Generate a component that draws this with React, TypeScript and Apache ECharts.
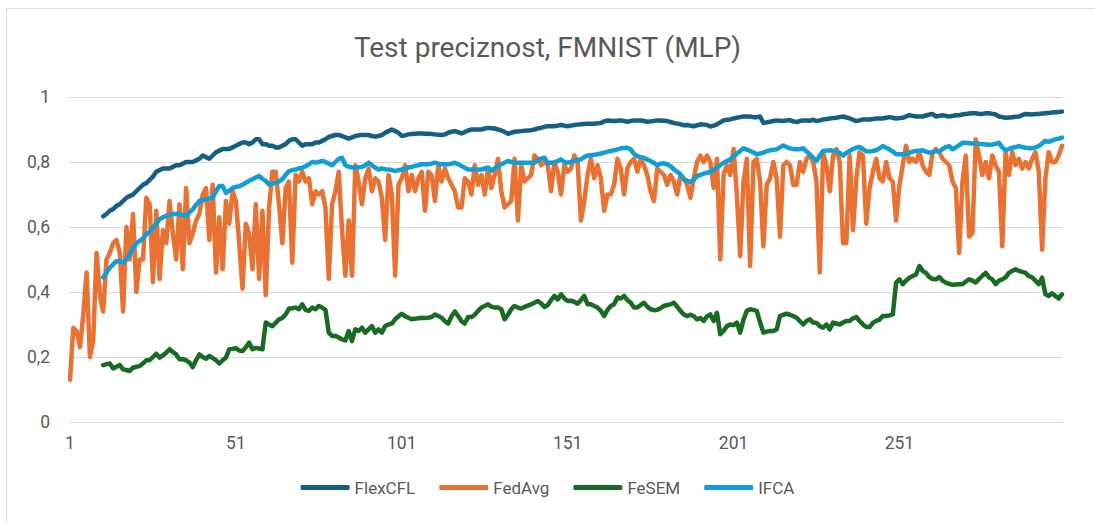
import React, { useEffect, useRef } from "react";
import * as echarts from "echarts";

const TITLE = "Test preciznost, FMNIST (MLP)";
const SERIES_NAMES = ["FlexCFL", "FedAvg", "FeSEM", "IFCA"];
const ROUNDS = 300;
const LATE_START = 10; // FlexCFL, FeSEM, IFCA start at round 11

const fedAvg = [
  0.13, 0.29, 0.28, 0.23, 0.33, 0.46, 0.20, 0.25, 0.52, 0.39,
  0.34, 0.50, 0.52, 0.55, 0.56, 0.52, 0.34, 0.60, 0.50, 0.64,
  0.40, 0.50, 0.50, 0.69, 0.67, 0.43, 0.65, 0.44, 0.59, 0.55,
  0.68, 0.58, 0.50, 0.67, 0.47, 0.72, 0.55, 0.58, 0.62, 0.64,
  0.70, 0.72, 0.56, 0.73, 0.46, 0.63, 0.47, 0.68, 0.61, 0.71,
  0.68, 0.55, 0.41, 0.61, 0.58, 0.47, 0.67, 0.44, 0.65, 0.39,
  0.66, 0.77, 0.77, 0.67, 0.55, 0.72, 0.74, 0.49, 0.76, 0.74,
  0.77, 0.74, 0.75, 0.67, 0.71, 0.70, 0.71, 0.66, 0.44, 0.67,
  0.71, 0.77, 0.59, 0.45, 0.62, 0.45, 0.79, 0.74, 0.67, 0.75,
  0.78, 0.71, 0.75, 0.74, 0.69, 0.56, 0.76, 0.70, 0.45, 0.73,
  0.75, 0.79, 0.71, 0.76, 0.71, 0.75, 0.77, 0.65, 0.77, 0.76,
  0.68, 0.79, 0.74, 0.78, 0.75, 0.73, 0.71, 0.66, 0.66, 0.75,
  0.74, 0.70, 0.79, 0.73, 0.76, 0.70, 0.78, 0.72, 0.76, 0.81,
  0.71, 0.66, 0.67, 0.68, 0.81, 0.62, 0.79, 0.74, 0.75, 0.76,
  0.82, 0.81, 0.79, 0.80, 0.79, 0.71, 0.80, 0.77, 0.70, 0.79,
  0.77, 0.78, 0.82, 0.80, 0.62, 0.68, 0.76, 0.81, 0.75, 0.79,
  0.75, 0.65, 0.70, 0.70, 0.73, 0.81, 0.78, 0.70, 0.78, 0.80,
  0.81, 0.77, 0.81, 0.79, 0.76, 0.71, 0.68, 0.78, 0.77, 0.76,
  0.73, 0.76, 0.74, 0.70, 0.76, 0.75, 0.73, 0.69, 0.75, 0.80,
  0.82, 0.80, 0.82, 0.80, 0.72, 0.81, 0.50, 0.76, 0.79, 0.76,
  0.84, 0.70, 0.51, 0.74, 0.81, 0.48, 0.80, 0.81, 0.74, 0.54,
  0.73, 0.75, 0.80, 0.75, 0.57, 0.79, 0.80, 0.79, 0.73, 0.73,
  0.80, 0.77, 0.81, 0.82, 0.80, 0.74, 0.46, 0.83, 0.79, 0.71,
  0.82, 0.84, 0.80, 0.55, 0.55, 0.82, 0.59, 0.75, 0.83, 0.82,
  0.61, 0.72, 0.77, 0.81, 0.75, 0.74, 0.80, 0.75, 0.74, 0.62,
  0.73, 0.79, 0.85, 0.80, 0.81, 0.80, 0.83, 0.79, 0.77, 0.76,
  0.83, 0.84, 0.83, 0.81, 0.80, 0.79, 0.74, 0.72, 0.52, 0.74,
  0.82, 0.57, 0.58, 0.87, 0.82, 0.76, 0.80, 0.75, 0.82, 0.79,
  0.77, 0.54, 0.83, 0.76, 0.83, 0.79, 0.81, 0.78, 0.80, 0.78,
  0.81, 0.83, 0.77, 0.53, 0.75, 0.83, 0.80, 0.80, 0.82, 0.85,
];

// rounds 11..300
const flexCFL = [
  0.633, 0.64, 0.65, 0.655, 0.665, 0.67, 0.68, 0.69, 0.695, 0.70,
  0.71, 0.72, 0.73, 0.735, 0.745, 0.755, 0.77, 0.775, 0.78, 0.78,
  0.78, 0.785, 0.79, 0.79, 0.795, 0.80, 0.80, 0.80, 0.805, 0.81,
  0.82, 0.815, 0.81, 0.82, 0.83, 0.835, 0.84, 0.84, 0.84, 0.845,
  0.85, 0.855, 0.86, 0.86, 0.855, 0.86, 0.87, 0.87, 0.855, 0.855,
  0.85, 0.85, 0.845, 0.845, 0.85, 0.855, 0.865, 0.87, 0.87, 0.86,
  0.85, 0.855, 0.855, 0.855, 0.86, 0.86, 0.865, 0.87, 0.877, 0.88,
  0.883, 0.883, 0.88, 0.876, 0.872, 0.876, 0.88, 0.882, 0.883, 0.883,
  0.883, 0.88, 0.878, 0.88, 0.883, 0.89, 0.895, 0.90, 0.895, 0.89,
  0.88, 0.882, 0.885, 0.886, 0.887, 0.888, 0.888, 0.887, 0.887, 0.886,
  0.885, 0.884, 0.883, 0.885, 0.89, 0.893, 0.895, 0.892, 0.888, 0.892,
  0.897, 0.90, 0.90, 0.90, 0.90, 0.903, 0.905, 0.904, 0.903, 0.90,
  0.897, 0.892, 0.887, 0.89, 0.893, 0.894, 0.895, 0.896, 0.897, 0.898,
  0.90, 0.903, 0.905, 0.908, 0.91, 0.91, 0.91, 0.912, 0.914, 0.912,
  0.91, 0.912, 0.914, 0.915, 0.916, 0.917, 0.918, 0.918, 0.918, 0.919,
  0.92, 0.925, 0.928, 0.927, 0.926, 0.927, 0.928, 0.926, 0.924, 0.926,
  0.928, 0.928, 0.928, 0.926, 0.924, 0.925, 0.926, 0.928, 0.928, 0.927,
  0.926, 0.923, 0.92, 0.918, 0.916, 0.913, 0.914, 0.912, 0.91, 0.913,
  0.916, 0.915, 0.914, 0.909, 0.912, 0.916, 0.922, 0.928, 0.93, 0.931,
  0.934, 0.936, 0.938, 0.94, 0.94, 0.94, 0.938, 0.938, 0.94, 0.92,
  0.922, 0.924, 0.926, 0.928, 0.927, 0.926, 0.928, 0.929, 0.925, 0.923,
  0.926, 0.928, 0.928, 0.927, 0.93, 0.926, 0.928, 0.931, 0.932, 0.934,
  0.935, 0.936, 0.938, 0.94, 0.937, 0.934, 0.93, 0.926, 0.928, 0.931,
  0.931, 0.931, 0.932, 0.934, 0.934, 0.934, 0.936, 0.938, 0.936, 0.934,
  0.935, 0.936, 0.94, 0.944, 0.942, 0.94, 0.94, 0.94, 0.943, 0.946,
  0.948, 0.94, 0.942, 0.944, 0.942, 0.94, 0.942, 0.944, 0.944, 0.946,
  0.948, 0.949, 0.95, 0.95, 0.948, 0.948, 0.95, 0.95, 0.948, 0.946,
  0.94, 0.938, 0.936, 0.937, 0.938, 0.939, 0.94, 0.944, 0.948, 0.947,
  0.946, 0.948, 0.948, 0.949, 0.95, 0.951, 0.952, 0.953, 0.954, 0.955,
];

const feSEM = [
  0.175, 0.178, 0.18, 0.165, 0.17, 0.175, 0.162, 0.16, 0.157, 0.167,
  0.17, 0.172, 0.18, 0.19, 0.19, 0.20, 0.21, 0.198, 0.205, 0.213,
  0.224, 0.215, 0.208, 0.193, 0.193, 0.19, 0.183, 0.169, 0.19, 0.208,
  0.20, 0.195, 0.203, 0.197, 0.19, 0.18, 0.19, 0.198, 0.224, 0.225,
  0.227, 0.22, 0.218, 0.23, 0.244, 0.224, 0.228, 0.226, 0.224, 0.306,
  0.30, 0.295, 0.305, 0.316, 0.32, 0.331, 0.349, 0.35, 0.352, 0.347,
  0.362, 0.345, 0.342, 0.352, 0.347, 0.357, 0.352, 0.345, 0.275, 0.265,
  0.265, 0.26, 0.254, 0.251, 0.28, 0.249, 0.285, 0.28, 0.29, 0.275,
  0.285, 0.295, 0.275, 0.285, 0.275, 0.295, 0.30, 0.303, 0.316, 0.325,
  0.333, 0.325, 0.321, 0.316, 0.318, 0.319, 0.321, 0.32, 0.321, 0.323,
  0.331, 0.326, 0.321, 0.31, 0.303, 0.326, 0.34, 0.326, 0.31, 0.303,
  0.323, 0.323, 0.33, 0.342, 0.352, 0.357, 0.362, 0.355, 0.352, 0.352,
  0.347, 0.316, 0.33, 0.347, 0.357, 0.352, 0.349, 0.354, 0.358, 0.362,
  0.367, 0.372, 0.365, 0.354, 0.36, 0.375, 0.388, 0.377, 0.393, 0.38,
  0.372, 0.373, 0.37, 0.364, 0.375, 0.388, 0.362, 0.362, 0.357, 0.352,
  0.342, 0.326, 0.345, 0.357, 0.362, 0.383, 0.38, 0.388, 0.375, 0.367,
  0.352, 0.352, 0.36, 0.367, 0.355, 0.347, 0.344, 0.345, 0.35, 0.357,
  0.36, 0.362, 0.367, 0.355, 0.342, 0.331, 0.326, 0.33, 0.326, 0.316,
  0.32, 0.311, 0.325, 0.331, 0.311, 0.336, 0.27, 0.28, 0.295, 0.30,
  0.298, 0.306, 0.275, 0.315, 0.342, 0.347, 0.345, 0.342, 0.306, 0.275,
  0.278, 0.28, 0.28, 0.285, 0.326, 0.33, 0.333, 0.33, 0.326, 0.321,
  0.31, 0.30, 0.311, 0.316, 0.306, 0.305, 0.295, 0.29, 0.30, 0.285,
  0.306, 0.303, 0.30, 0.306, 0.311, 0.311, 0.319, 0.323, 0.311, 0.30,
  0.292, 0.292, 0.305, 0.311, 0.315, 0.326, 0.326, 0.328, 0.331, 0.429,
  0.439, 0.424, 0.435, 0.444, 0.449, 0.454, 0.48, 0.465, 0.459, 0.446,
  0.44, 0.439, 0.446, 0.435, 0.429, 0.425, 0.422, 0.423, 0.424, 0.424,
  0.432, 0.439, 0.435, 0.429, 0.44, 0.45, 0.459, 0.445, 0.439, 0.424,
  0.435, 0.439, 0.445, 0.459, 0.465, 0.47, 0.465, 0.462, 0.459, 0.449,
  0.445, 0.435, 0.424, 0.444, 0.393, 0.388, 0.396, 0.388, 0.38, 0.393,
];

const ifca = [
  0.445, 0.46, 0.475, 0.485, 0.495, 0.495, 0.49, 0.50, 0.516, 0.535,
  0.55, 0.557, 0.565, 0.577, 0.585, 0.598, 0.61, 0.624, 0.63, 0.634,
  0.638, 0.641, 0.64, 0.64, 0.636, 0.634, 0.645, 0.654, 0.668, 0.68,
  0.683, 0.685, 0.688, 0.69, 0.71, 0.726, 0.726, 0.705, 0.712, 0.72,
  0.723, 0.726, 0.73, 0.736, 0.742, 0.747, 0.752, 0.757, 0.748, 0.742,
  0.731, 0.733, 0.736, 0.74, 0.747, 0.76, 0.772, 0.775, 0.777, 0.78,
  0.782, 0.787, 0.793, 0.80, 0.798, 0.80, 0.803, 0.80, 0.795, 0.79,
  0.80, 0.81, 0.813, 0.79, 0.786, 0.783, 0.783, 0.783, 0.785, 0.79,
  0.798, 0.79, 0.782, 0.777, 0.78, 0.778, 0.777, 0.775, 0.772, 0.775,
  0.777, 0.78, 0.783, 0.785, 0.788, 0.79, 0.793, 0.793, 0.793, 0.795,
  0.798, 0.795, 0.793, 0.793, 0.793, 0.795, 0.798, 0.793, 0.788, 0.782,
  0.777, 0.777, 0.777, 0.777, 0.777, 0.78, 0.783, 0.774, 0.78, 0.788,
  0.793, 0.798, 0.803, 0.80, 0.798, 0.798, 0.798, 0.798, 0.798, 0.798,
  0.798, 0.805, 0.81, 0.813, 0.798, 0.798, 0.798, 0.803, 0.808, 0.80,
  0.798, 0.80, 0.803, 0.806, 0.808, 0.815, 0.82, 0.821, 0.822, 0.824,
  0.826, 0.829, 0.832, 0.834, 0.836, 0.839, 0.842, 0.843, 0.844, 0.839,
  0.825, 0.818, 0.815, 0.813, 0.808, 0.803, 0.797, 0.79, 0.795, 0.796,
  0.793, 0.787, 0.777, 0.77, 0.762, 0.747, 0.742, 0.739, 0.745, 0.757,
  0.76, 0.764, 0.767, 0.77, 0.776, 0.783, 0.79, 0.798, 0.803, 0.808,
  0.817, 0.826, 0.834, 0.842, 0.838, 0.834, 0.829, 0.824, 0.826, 0.829,
  0.833, 0.836, 0.838, 0.839, 0.845, 0.851, 0.846, 0.842, 0.84, 0.839,
  0.84, 0.842, 0.832, 0.824, 0.813, 0.803, 0.82, 0.834, 0.835, 0.836,
  0.835, 0.834, 0.828, 0.82, 0.828, 0.834, 0.84, 0.844, 0.846, 0.84,
  0.833, 0.832, 0.834, 0.836, 0.842, 0.849, 0.844, 0.839, 0.832, 0.824,
  0.824, 0.824, 0.826, 0.829, 0.832, 0.834, 0.835, 0.836, 0.832, 0.829,
  0.83, 0.834, 0.832, 0.84, 0.846, 0.849, 0.839, 0.845, 0.852, 0.859,
  0.859, 0.858, 0.857, 0.856, 0.856, 0.855, 0.854, 0.853, 0.854, 0.856,
  0.859, 0.845, 0.836, 0.84, 0.844, 0.846, 0.849, 0.846, 0.844, 0.843,
  0.842, 0.845, 0.849, 0.857, 0.865, 0.862, 0.866, 0.87, 0.872, 0.875,
];

const COLORS = ["#156082", "#E97132", "#196B24", "#0F9ED5"];
const FONT = "Roboto, 'Noto Sans', sans-serif";
const TEXT_COLOR = "#595959";
const GRID_COLOR = "#D9D9D9";

const categories = Array.from({ length: ROUNDS }, (_, i) => String(i + 1));
const padLate = (arr: number[]) => [
  ...Array.from({ length: LATE_START }, () => null),
  ...arr,
];

export default function App() {
  const ref = useRef<HTMLDivElement>(null);

  useEffect(() => {
    if (!ref.current) return;
    const chart = echarts.init(ref.current, undefined, { renderer: "svg" });
    const dataSets = [padLate(flexCFL), fedAvg, padLate(feSEM), padLate(ifca)];
    chart.setOption({
      animation: false,
      backgroundColor: "#ffffff",
      title: {
        text: TITLE,
        left: "center",
        top: 28,
        textStyle: {
          fontFamily: FONT,
          fontSize: 28,
          fontWeight: "normal",
          color: TEXT_COLOR,
        },
      },
      graphic: [
        {
          type: "rect",
          shape: { x: 6.5, y: 8.5, width: 1200, height: 700 },
          style: { fill: "none", stroke: GRID_COLOR, lineWidth: 1 },
          silent: true,
        },
      ],
      legend: {
        data: SERIES_NAMES,
        bottom: 22,
        left: "center",
        icon: "roundRect",
        itemWidth: 49,
        itemHeight: 5,
        itemGap: 24,
        textStyle: { fontFamily: FONT, fontSize: 17, color: TEXT_COLOR },
      },
      grid: { left: 70, right: 33, top: 97, bottom: 101, containLabel: false },
      xAxis: {
        type: "category",
        data: categories,
        boundaryGap: false,
        axisLine: { lineStyle: { color: GRID_COLOR, width: 1 } },
        axisTick: { show: false },
        axisLabel: {
          interval: 49,
          margin: 12,
          fontFamily: FONT,
          fontSize: 17.5,
          color: TEXT_COLOR,
        },
      },
      yAxis: {
        type: "value",
        min: 0,
        max: 1,
        interval: 0.2,
        axisLine: { show: false },
        axisTick: { show: false },
        splitLine: { lineStyle: { color: GRID_COLOR, width: 1 } },
        axisLabel: {
          margin: 20,
          fontFamily: FONT,
          fontSize: 17.5,
          color: TEXT_COLOR,
          formatter: (v: number) => String(Math.round(v * 10) / 10).replace(".", ","),
        },
      },
      series: SERIES_NAMES.map((name, i) => ({
        name,
        type: "line",
        data: dataSets[i],
        showSymbol: false,
        symbol: "none",
        connectNulls: false,
        lineStyle: { width: 4.5, color: COLORS[i], cap: "round", join: "round" },
        itemStyle: { color: COLORS[i] },
      })),
    });
    return () => chart.dispose();
  }, []);

  return (
    <div
      ref={ref}
      style={{ position: "fixed", left: 0, top: 0, width: 1095, height: 523 }}
    />
  );
}
